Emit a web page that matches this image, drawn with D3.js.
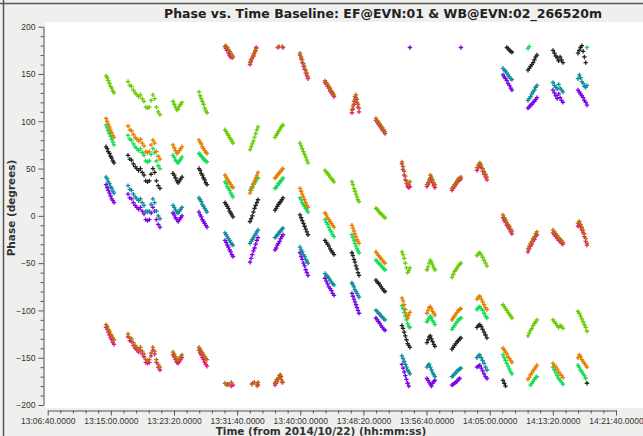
<!DOCTYPE html>
<html>
<head>
<meta charset="utf-8">
<script src="https://cdn.jsdelivr.net/npm/d3@7"></script>
<style>
  html, body { margin: 0; padding: 0; background: #efefed; }
  svg { display: block; }
</style>
</head>
<body>
<svg id="chart" width="643" height="436"></svg>
<script>
'use strict';

var titleText = "Phase vs. Time Baseline: EF@EVN:01 & WB@EVN:02_266520m";
var xTitle = "Time (from 2014/10/22) (hh:mm:ss)";
var yTitle = "Phase (degrees)";

var xTickLabels = ["13:06:40", "13:15:00", "13:23:20", "13:31:40", "13:40:00",
    "13:48:20", "13:56:40", "14:05:00", "14:13:20", "14:21:40"];
var yTickLabels = [-200, -150, -100, -50, 0, 50, 100, 150, 200];

var scanStart = ["13:14:22", "13:17:16", "13:23:12", "13:26:38", "13:30:04", "13:33:22", "13:36:40",
    "13:39:58", "13:43:16", "13:46:49", "13:49:59", "13:53:25", "13:56:43", "14:00:01", "14:03:19",
    "14:06:45", "14:10:03", "14:13:21", "14:16:39"];
var scanEnd = ["13:15:25", "13:21:29", "13:24:23", "13:27:41", "13:31:07", "13:34:25", "13:37:43",
    "13:41:01", "13:44:27", "13:47:45", "13:51:11", "13:54:28", "13:57:46", "14:01:12", "14:04:38",
    "14:07:56", "14:11:14", "14:14:40", "14:17:50"];

// phase per scan, in time order inside each scan
var lime = [
    [148, 146, 143, 140, 137, 135, 132, 130],
    [142, 138, 137, 133, 130, 128, 126, 128, 124, 121, 115, 114, 115, 122, 128, 124, 115, 110, 107],
    [121, 118, 115, 112, 113, 116, 118, 120],
    [131, 127, 124, 121, 118, 114, 111, 109],
    [91, 89, 87, 85, 83, 81, 79, 77],
    [70, 73, 76, 79, 83, 87, 91, 94],
    [83, 85, 87, 89, 91, 93, 95, 96],
    [77, 74, 71, 68, 65, 62, 59, 56],
    [48, 46, 45, 43, 41, 39, 38, 36],
    [36, 33, 29, 26, 23, 20, 17, 15],
    [8, 7, 5, 3, 2, 1, -1, -2],
    [-38, -41, -45, -50, -55, -60, -58, -55],
    [-57, -54, -50, -47, -49, -52, -55, -57],
    [-65, -62, -59, -57, -55, -53, -51, -50],
    [-42, -40, -39, -41, -44, -47, -50, -53],
    [-94, -96, -98, -100, -102, -104, -106, -108],
    [-127, -124, -121, -119, -116, -114, -112, -110],
    [-110, -112, -114, -116, -118, -116, -117, -119],
    [-101, -103, -106, -109, -112, -115, -118, -122]
];
var orange = [
    [103, 100, 97, 94, 91, 88, 85, 83],
    [95, 91, 90, 86, 83, 81, 79, 81, 77, 74, 68, 67, 68, 75, 80, 77, 68, 63, 60],
    [75, 72, 69, 66, 67, 69, 71, 73],
    [80, 78, 76, 73, 71, 69, 67, 66],
    [43, 41, 39, 37, 35, 33, 31, 30],
    [24, 27, 30, 34, 37, 40, 43, 46],
    [40, 41, 43, 44, 46, 47, 49, 50],
    [29, 26, 23, 20, 17, 14, 11, 9],
    [3, 1, -2, -4, -6, -8, -10, -12],
    [-10, -13, -16, -19, -22, -25, -27, -29],
    [-38, -40, -42, -44, -45, -47, -49, -50],
    [-87, -90, -94, -99, -104, -108, -105, -102],
    [-103, -100, -97, -96, -98, -101, -103, -105],
    [-110, -108, -106, -104, -102, -100, -99, -98],
    [-88, -86, -85, -88, -91, -94, -97, -99],
    [-140, -142, -144, -146, -149, -151, -153, -155],
    [-173, -171, -168, -166, -164, -162, -160, -158],
    [-156, -158, -160, -162, -165, -167, -169, -171],
    [-150, -147, -149, -152, -154, -156, -158, -160]
];
var green = [
    [96, 93, 90, 87, 84, 81, 78, 75],
    [85, 81, 80, 76, 73, 71, 69, 71, 67, 64, 58, 57, 58, 65, 71, 67, 58, 53, 50],
    [64, 62, 59, 57, 56, 58, 60, 62],
    [66, 65, 63, 62, 60, 59, 58, 57],
    [36, 34, 31, 29, 27, 24, 22, 20],
    [27, 29, 31, 33, 35, 37, 39, 40],
    [29, 30, 32, 34, 35, 37, 38, 40],
    [19, 17, 14, 12, 10, 8, 6, 4],
    [-4, -7, -9, -12, -15, -17, -20, -22],
    [-20, -23, -26, -29, -32, -35, -37, -39],
    [-47, -48, -50, -51, -53, -54, -56, -57],
    [-95, -98, -102, -106, -110, -114, -117, -118],
    [-112, -110, -108, -106, -108, -111, -113, -115],
    [-120, -118, -116, -114, -112, -110, -109, -108],
    [-99, -97, -96, -98, -100, -103, -106, -108],
    [-147, -150, -153, -156, -159, -162, -165, -167],
    [177, 179, -179, -177, -175, -173, -171, -170],
    [-160, -163, -166, -169, -172, -174, -176, -178],
    [-158, -160, -163, -165, -167, -169, -172, 178]
];
var black = [
    [73, 71, 68, 66, 63, 61, 58, 56],
    [64, 60, 59, 55, 52, 50, 48, 50, 46, 43, 37, 36, 37, 44, 50, 46, 37, 32, 29],
    [45, 43, 40, 37, 35, 37, 39, 41],
    [50, 48, 45, 43, 40, 38, 35, 33],
    [14, 12, 10, 8, 5, 3, 1, -1],
    [-6, -3, 0, 4, 8, 11, 14, 17],
    [6, 8, 10, 12, 14, 15, 17, 19],
    [1, -2, -5, -8, -11, -14, -17, -20],
    [-26, -28, -30, -32, -35, -37, -39, -41],
    [-39, -42, -46, -49, -53, -56, -60, -63],
    [-68, -70, -71, -73, -75, -77, -79, -80],
    [-116, -119, -123, -127, -131, -135, -137, -139],
    [-134, -131, -128, -127, -130, -133, -136, -138],
    [-141, -139, -137, -135, -133, -132, -130, -129],
    [-118, -116, -115, -117, -120, -123, -126, -129],
    [-174, -177, -180, 178, 177, 175, 174, 173],
    [154, 156, 158, 160, 162, 165, 168, 170],
    [175, 172, 169, 167, 164, 168, 165, 162],
    [172, 175, 178, 180, 174, 168, 162, -177]
];
var teal = [
    [41, 39, 36, 34, 31, 29, 26, 24],
    [32, 28, 27, 23, 20, 18, 16, 18, 14, 11, 5, 4, 5, 12, 18, 14, 5, 0, -3],
    [11, 9, 6, 4, 3, 5, 7, 9],
    [19, 17, 15, 12, 10, 8, 6, 4],
    [-18, -20, -22, -24, -26, -28, -30, -31],
    [-29, -27, -25, -23, -21, -19, -17, -15],
    [-23, -22, -20, -19, -17, -16, -14, -13],
    [-33, -36, -38, -41, -43, -46, -48, -50],
    [-61, -63, -64, -66, -68, -70, -72, -73],
    [-71, -73, -75, -78, -80, -82, -84, -86],
    [-100, -101, -103, -104, -106, -107, -109, -110],
    [-148, -151, -154, -157, -160, -163, -165, -167],
    [-160, -158, -157, -160, -163, -166, -168, -170],
    [-170, -169, -167, -166, -164, -163, -162, -161],
    [-150, -148, -147, -150, -153, -156, -160, -163],
    [156, 154, 153, 151, 149, 147, 145, 144],
    [122, 124, 126, 129, 131, 133, 136, 138],
    [141, 138, 136, 134, 139, 135, 133, 131],
    [145, 149, 146, 142, 140, 137, 136, 138]
];
var purple = [
    [33, 30, 27, 24, 21, 18, 16, 14],
    [23, 19, 18, 14, 11, 9, 7, 9, 5, 2, -4, -5, -4, 3, 9, 5, -4, -9, -12],
    [3, 1, -2, -4, -6, -4, -2, 0],
    [4, 1, -1, -4, -6, -8, -10, -12],
    [-26, -28, -31, -33, -36, -38, -41, -43],
    [-49, -45, -41, -37, -34, -30, -26, -23],
    [-36, -34, -31, -29, -27, -24, -22, -20],
    [-39, -43, -46, -50, -53, -57, -60, -63],
    [-66, -69, -72, -75, -77, -79, -82, -84],
    [-82, -85, -88, -91, -94, -97, -100, -103],
    [-108, -110, -112, -114, -116, -118, -120, -121],
    [-157, -161, -165, -169, -173, -177, -180, 178],
    [-172, -174, -176, -178, -180, -177, -175, -174],
    [-179, -178, -177, -176, -175, -173, -172, 178],
    [-160, -159, -158, -161, -164, -167, -170, -172],
    [149, 147, 145, 143, 140, 138, 135, 133],
    [114, 115, 117, 118, 120, 121, 123, 125],
    [133, 130, 127, 124, 129, 125, 122, 120],
    [133, 131, 129, 127, 125, 122, 120, 117]
];
var pink = [
    [-118, -120, -123, -126, -129, -131, -134, -136],
    [-128, -132, -133, -137, -140, -142, -144, -142, -146, -149, -155, -156, -155, -148, -142, -146, -155, -160, -163],
    [-147, -149, -152, -155, -156, -154, -152, -150],
    [-142, -145, -147, -150, -152, -155, -157, -159],
    [179, 177, 175, -178, 172, 170, 168, -180, 167, -179],
    [160, 163, 166, -177, 169, 172, 175, 178, -178, -179],
    [-179, -177, -175, -173, 179, -171, -170, -176, 178],
    [170, 166, 162, 158, 155, 151, 148, 145],
    [141, 139, 137, 135, 132, 130, 128, 126],
    [109, 113, 118, 123, 125, 120, 115, 110],
    [101, 99, 97, 95, 93, 91, 89, 87],
    [55, 49, 43, 38, 34, 31, 30, 31],
    [31, 33, 36, 40, 38, 35, 32, 30],
    [27, 29, 31, 33, 35, 37, 38, 39],
    [48, 51, 53, 51, 47, 44, 41, 38],
    [-2, -5, -7, -10, -12, -14, -17, -19],
    [-38, -35, -32, -30, -27, -25, -22, -20],
    [-18, -20, -22, -24, -26, -27, -29, -30],
    [-11, -9, -12, -15, -18, -22, -27, -31]
];
var brown = [
    [-115, -117, -120, -122, -125, -127, -129, -131],
    [-125, -129, -130, -134, -137, -139, -141, -139, -143, -146, -152, -153, -152, -145, -139, -143, -152, -157, -160],
    [-144, -146, -149, -152, -153, -151, -149, -147],
    [-139, -141, -143, -145, -147, -149, -151, -152],
    [-177, 180, -179, 178, 176, -178, 174, 172, -176, 170, 168],
    [162, 165, -178, 168, 171, -176, 174, 177, -180, -176],
    [-177, -175, -173, 178, -171, -169, -168, -173, 179, -176],
    [172, 168, 165, 161, 158, 154, 151, 147],
    [143, 141, 139, 137, 135, 132, 130, 128],
    [112, 116, 121, 126, 128, 123, 118, 114],
    [103, 101, 99, 97, 95, 93, 91, 89],
    [57, 52, 47, 42, 37, 34, 33, 36],
    [33, 35, 38, 43, 41, 38, 35, 33],
    [29, 31, 33, 35, 37, 39, 40, 41],
    [51, 54, 56, 54, 50, 47, 44, 41],
    [1, -2, -4, -7, -9, -11, -14, -16],
    [-35, -32, -29, -27, -24, -22, -19, -17],
    [-15, -17, -19, -21, -23, -25, -26, -28],
    [-8, -6, -9, -12, -15, -19, -24, -29]
];

var seriesList = [
    {values: lime, color: "#66cc00"},
    {values: green, color: "#11dd55"},
    {values: orange, color: "#e67e00"},
    {values: black, color: "#222222"},
    {values: purple, color: "#7a00e8"},
    {values: teal, color: "#0e8c9c"},
    {values: pink, color: "#e8157a"},
    {values: brown, color: "#b86a0c"}
];

function toSec(str) {
    var p = str.split(":").map(Number);
    return p[0] * 3600 + p[1] * 60 + p[2];
}

function fmtTime(s) {
    var h = Math.floor(s / 3600), m = Math.floor((s % 3600) / 60), sec = s % 60;
    return d3.format("02d")(h) + ":" + d3.format("02d")(m) + ":" + d3.format("02d")(sec) + ".0000";
}

var svg = d3.select("#chart");
var W = 643, H = 436;

var x = d3.scaleLinear()
    .domain([toSec(xTickLabels[0]), toSec(xTickLabels[xTickLabels.length - 1])])
    .range([47.7, 616]);
var y = d3.scaleLinear().domain([-200, 200]).range([405, 26.7]);

// window frame + plot background
svg.append("rect").attr("x", 0).attr("y", 0).attr("width", W).attr("height", H).attr("fill", "#efefed");
svg.append("rect").attr("x", 45).attr("y", 22).attr("width", W - 45).attr("height", 386).attr("fill", "#ffffff");
svg.append("line").attr("x1", 3.5).attr("x2", 3.5).attr("y1", 0).attr("y2", H).attr("stroke", "#555").attr("stroke-width", 1.5);
svg.append("line").attr("x1", 0).attr("x2", W).attr("y1", 3.5).attr("y2", 3.5).attr("stroke", "#555").attr("stroke-width", 1.5);

svg.append("text")
    .attr("x", 383).attr("y", 18)
    .attr("text-anchor", "middle")
    .attr("font-family", "DejaVu Sans, sans-serif")
    .attr("font-weight", "bold")
    .attr("font-size", 12.5)
    .attr("fill", "#222")
    .text(titleText);

// axes
var xMajor = xTickLabels.map(toSec);
var xMinor = d3.range(x.domain()[0], x.domain()[1] + 1, 100).filter(function (v) {
    return xMajor.indexOf(v) < 0;
});

var gx = svg.append("g").attr("transform", "translate(0,410.5)");
gx.call(d3.axisBottom(x).tickValues(xMajor).tickFormat(fmtTime).tickSize(5).tickSizeOuter(0));
var gxm = svg.append("g").attr("transform", "translate(0,410.5)");
gxm.call(d3.axisBottom(x).tickValues(xMinor).tickFormat("").tickSize(3).tickSizeOuter(0));
gxm.select(".domain").remove();

var yMinor = d3.range(-200, 201, 10).filter(function (v) {
    return yTickLabels.indexOf(v) < 0;
});
var gy = svg.append("g").attr("transform", "translate(43.5,0)");
gy.call(d3.axisLeft(y).tickValues(yTickLabels).tickSize(5).tickSizeOuter(0));
var gym = svg.append("g").attr("transform", "translate(43.5,0)");
gym.call(d3.axisLeft(y).tickValues(yMinor).tickFormat("").tickSize(3).tickSizeOuter(0));
gym.select(".domain").remove();

svg.selectAll(".domain, .tick line").attr("stroke", "#555");
svg.selectAll(".tick text")
    .attr("font-family", "Liberation Sans, sans-serif")
    .attr("font-size", 8.5)
    .attr("fill", "#333");
gx.selectAll(".tick text").attr("y", 7);

svg.append("text")
    .attr("x", 321).attr("y", 435)
    .attr("text-anchor", "middle")
    .attr("font-family", "DejaVu Sans, sans-serif")
    .attr("font-weight", "bold")
    .attr("font-size", 10.5)
    .attr("fill", "#333")
    .text(xTitle);

svg.append("text")
    .attr("transform", "translate(15,208) rotate(-90)")
    .attr("text-anchor", "middle")
    .attr("font-family", "DejaVu Sans, sans-serif")
    .attr("font-weight", "bold")
    .attr("font-size", 10.5)
    .attr("fill", "#333")
    .text(yTitle);

// points: samples are spread evenly over each scan's time span
var cross = "M-2.2,0H2.2M0,-2.2V2.2";
var plot = svg.append("g").attr("class", "points");

seriesList.forEach(function (s) {
    var pts = [];
    s.values.forEach(function (scanVals, i) {
        var t0 = toSec(scanStart[i]), t1 = toSec(scanEnd[i]);
        scanVals.forEach(function (v, j) {
            var f = scanVals.length > 1 ? j / (scanVals.length - 1) : 0.5;
            pts.push({t: t0 + (t1 - t0) * f, phase: v});
        });
    });
    plot.append("g")
        .selectAll("path")
        .data(pts)
        .enter()
        .append("path")
        .attr("d", cross)
        .attr("transform", function (d) {
            return "translate(" + x(d.t) + "," + y(d.phase) + ")";
        })
        .attr("stroke", s.color)
        .attr("stroke-width", 1.3)
        .attr("fill", "none");
});
</script>
</body>
</html>
